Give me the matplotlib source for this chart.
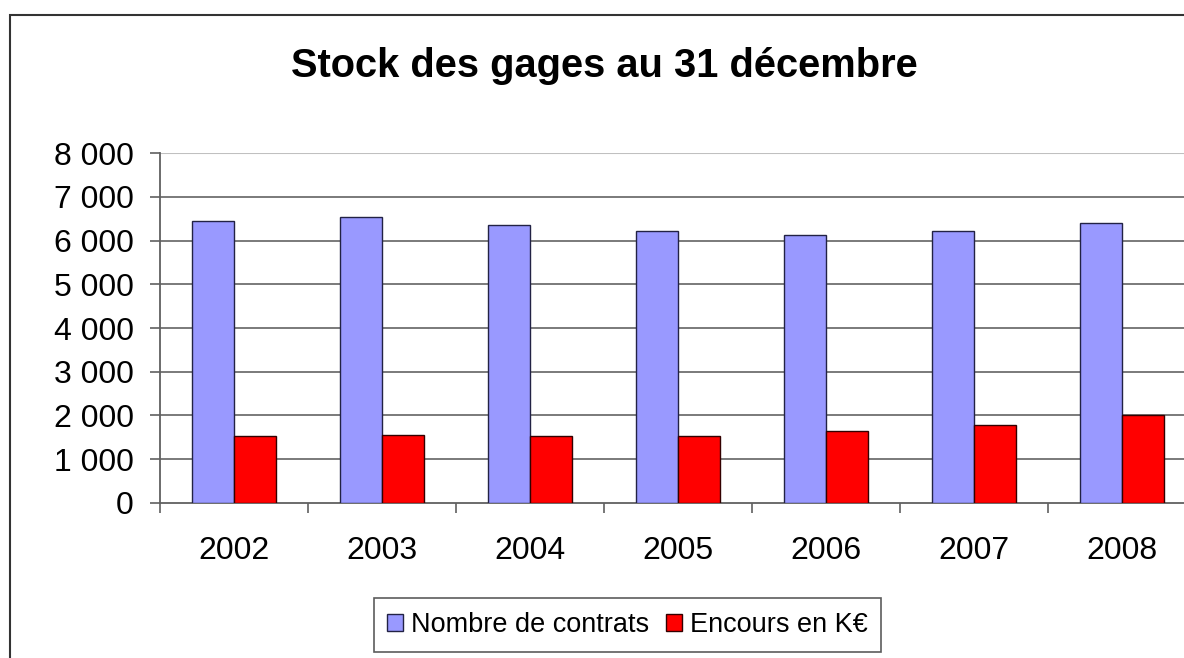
import numpy as np
import matplotlib.pyplot as plt
from matplotlib.patches import Rectangle
from matplotlib.ticker import FuncFormatter

plt.rcParams['font.family'] = ['Liberation Sans', 'DejaVu Sans']

years = ['2002', '2003', '2004', '2005', '2006', '2007', '2008']
nb_contrats = [6460, 6540, 6350, 6230, 6130, 6230, 6410]
encours = [1520, 1550, 1520, 1520, 1650, 1770, 2000]

W, H = 1184, 658
fig = plt.figure(figsize=(W / 100, H / 100), dpi=100)
fig.patch.set_facecolor('white')

# outer frame of the chart (cut off on right and bottom)
fig.patches.append(Rectangle((10 / W, -0.1), 1.2, 1.1 - 15 / H,
                             transform=fig.transFigure, fill=False,
                             edgecolor='#333333', linewidth=1.5))

ax = fig.add_axes([160 / W, (H - 502.7) / H, 1036 / W, (502.7 - 153.3) / H])

x = np.arange(len(years))
w = 0.284
ax.bar(x - w / 2, nb_contrats, w, color='#9999FF', edgecolor='#222244',
       linewidth=1, label='Nombre de contrats', zorder=3)
ax.bar(x + w / 2, encours, w, color='#FF0000', edgecolor='#330000',
       linewidth=1, label='Encours en K€', zorder=3)

ax.set_xlim(-0.5, len(years) - 0.5)
ax.set_ylim(0, 8000)
ax.set_yticks(range(0, 8001, 1000))
ax.yaxis.set_major_formatter(FuncFormatter(lambda v, p: f'{int(v):,}'.replace(',', ' ')))
ax.set_xticks(x)
ax.set_xticklabels(years)
ax.set_xticks(np.arange(-0.5, len(years)), minor=True)

for v in range(1000, 8000, 1000):
    ax.axhline(v, color='#707070', linewidth=1.3, zorder=1)
ax.axhline(8000, color='#c0c0c0', linewidth=1.5, zorder=1)

for s in ['top', 'right']:
    ax.spines[s].set_visible(False)
ax.spines['left'].set_color('#606060')
ax.spines['bottom'].set_color('#606060')
ax.spines['left'].set_linewidth(1.3)
ax.spines['bottom'].set_linewidth(1.3)

ax.tick_params(axis='y', length=7, width=1.2, color='#606060', pad=12, labelsize=23)
ax.tick_params(axis='x', which='major', length=0, pad=24, labelsize=23)
ax.tick_params(axis='x', which='minor', length=7, width=1.2, color='#606060')

fig.text(604 / W, 1 - 77 / H, 'Stock des gages au 31 décembre', ha='center',
         va='baseline', fontsize=28.7, fontweight='bold')

leg = fig.legend(loc='center', bbox_to_anchor=(627.5 / W, 1 - 625 / H), ncol=2,
                 fontsize=19.5, frameon=True, fancybox=False, handlelength=0.6,
                 handleheight=0.6, handletextpad=0.3, columnspacing=0.6,
                 borderpad=0.5, borderaxespad=0)
leg.get_frame().set_edgecolor('#333333')
leg.get_frame().set_linewidth(1.2)

fig.savefig('out.png', dpi=100)
